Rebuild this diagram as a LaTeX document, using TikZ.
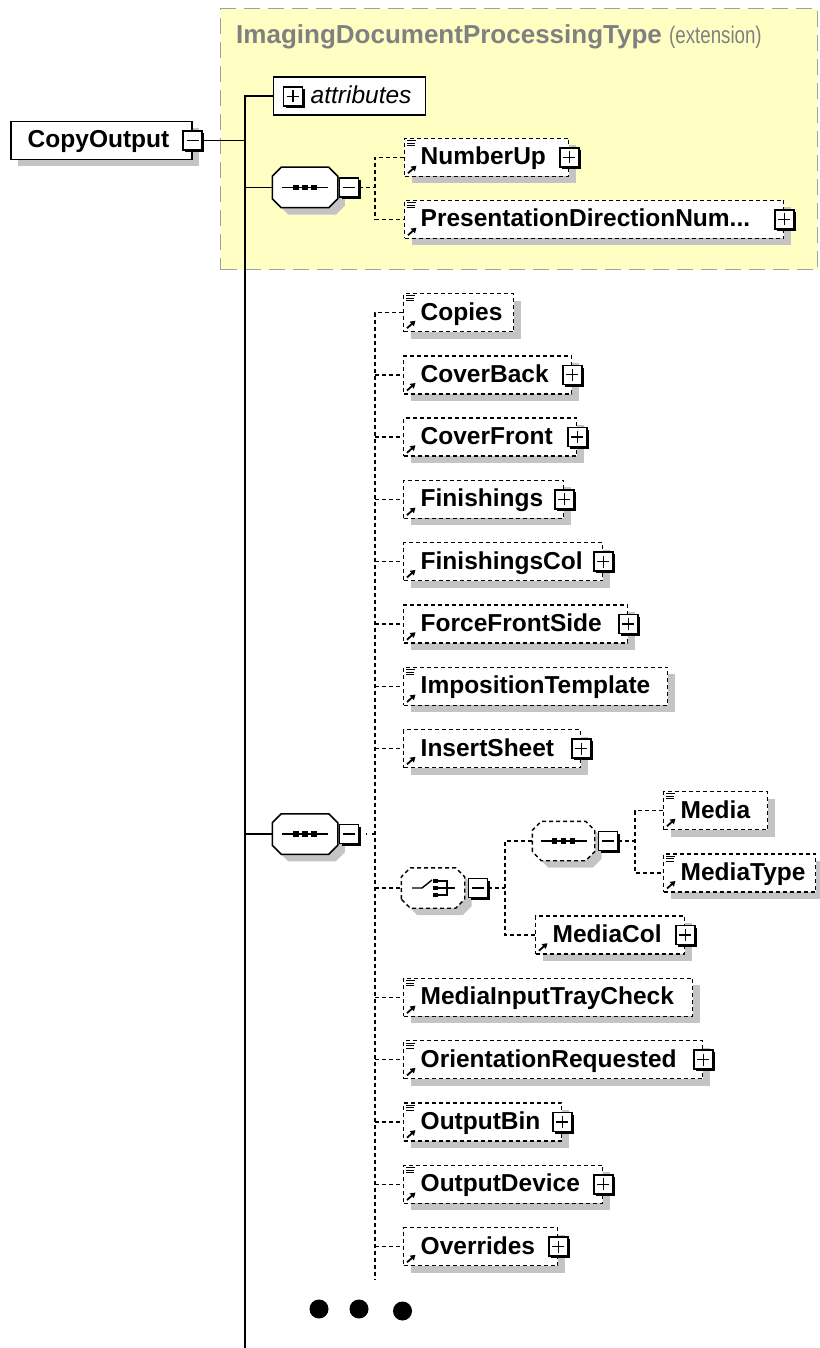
\documentclass[tikz,border=0pt]{standalone}
\usepackage{fontspec}
\usepackage{graphicx}
\setmainfont{Liberation Sans}
\usetikzlibrary{shadows,calc,arrows.meta}
\definecolor{shadowgray}{HTML}{C4C4C4}
\definecolor{extfill}{HTML}{FFFFC4}
\definecolor{extborder}{HTML}{A0A0A0}
\definecolor{titlegray}{HTML}{808080}
\newcommand{\elfont}{\fontsize{24.5}{28}\selectfont\bfseries}

% box with cut corners, used for compositor symbols
\makeatletter
\newdimen\cutL \newdimen\cutR \newdimen\cutT \newdimen\cutB
\pgfdeclareshape{cutcorners}{
  \inheritsavedanchors[from=rectangle]
  \inheritanchorborder[from=rectangle]
  \inheritanchor[from=rectangle]{center}
  \inheritanchor[from=rectangle]{north}
  \inheritanchor[from=rectangle]{south}
  \inheritanchor[from=rectangle]{east}
  \inheritanchor[from=rectangle]{west}
  \inheritanchor[from=rectangle]{north east}
  \inheritanchor[from=rectangle]{north west}
  \inheritanchor[from=rectangle]{south east}
  \inheritanchor[from=rectangle]{south west}
  \inheritanchor[from=rectangle]{mid}
  \inheritanchor[from=rectangle]{base}
  \backgroundpath{
    \southwest \global\cutL=\pgf@x \global\cutB=\pgf@y
    \northeast \global\cutR=\pgf@x \global\cutT=\pgf@y
    \pgfpathmoveto{\pgfqpoint{\cutL}{\dimexpr\cutB+9pt\relax}}
    \pgfpathlineto{\pgfqpoint{\cutL}{\dimexpr\cutT-9pt\relax}}
    \pgfpathlineto{\pgfqpoint{\dimexpr\cutL+9pt\relax}{\cutT}}
    \pgfpathlineto{\pgfqpoint{\dimexpr\cutR-9pt\relax}{\cutT}}
    \pgfpathlineto{\pgfqpoint{\cutR}{\dimexpr\cutT-9pt\relax}}
    \pgfpathlineto{\pgfqpoint{\cutR}{\dimexpr\cutB+9pt\relax}}
    \pgfpathlineto{\pgfqpoint{\dimexpr\cutR-9pt\relax}{\cutB}}
    \pgfpathlineto{\pgfqpoint{\dimexpr\cutL+9pt\relax}{\cutB}}
    \pgfpathclose
  }
}
\makeatother

\begin{document}
\begin{tikzpicture}[x=1pt,y=-1pt,
  shadowed/.style={drop shadow={shadow xshift=7pt,shadow yshift=-7pt,fill=shadowgray,opacity=1}},
  boxbase/.style={fill=white,anchor=west,inner sep=0pt,minimum height=38pt,
    text height=17pt,text depth=2pt,align=left,font=\elfont},
  elem/.style={boxbase,draw,line width=1.4pt,dash pattern=on 4pt off 3pt,shadowed},
  topel/.style={boxbase,draw,line width=1.5pt,shadowed},
  attrbox/.style={boxbase,draw,line width=1.4pt,font=\fontsize{24.5}{28}\selectfont\itshape},
  smallbox/.style={draw,line width=1.6pt,fill=white,minimum size=19pt,inner sep=0pt,
    drop shadow={shadow xshift=2.2pt,shadow yshift=-2.2pt,fill=black,opacity=1}},
  plusbox/.style={smallbox,path picture={
    \draw[solid,line width=1.3pt] ($(path picture bounding box.center)+(-6,0)$) -- +(12,0)
      ($(path picture bounding box.center)+(0,-6)$) -- +(0,12);}},
  minusbox/.style={smallbox,path picture={
    \draw[solid,line width=1.3pt] ($(path picture bounding box.center)+(-6,0)$) -- +(12,0);}},
  octbase/.style={cutcorners,fill=white,minimum width=64pt,minimum height=39pt,
    inner sep=0pt,shadowed},
  seqicon/.style={path picture={
    \draw[solid,line width=1.4pt] ($(path picture bounding box.center)+(-23,0)$) -- +(46,0);
    \foreach \dx in {-9,0,9}
      \fill[black] ($(path picture bounding box.center)+(\dx-2.8,-2.8)$) rectangle +(5.6,5.6);}},
  seqbox/.style={octbase,draw,line width=1.5pt,seqicon},
  optseqbox/.style={octbase,draw,line width=1.4pt,dash pattern=on 4pt off 3pt,
    minimum width=61pt,minimum height=38pt,seqicon},
  choicebox/.style={octbase,draw,line width=1.4pt,dash pattern=on 4pt off 3pt,
    minimum width=62pt,path picture={
    \coordinate (cc) at (path picture bounding box.center);
    \draw[solid,line width=1.4pt] ($(cc)+(-21,0)$) -- +(10,0) -- +(20,-8);
    \foreach \dy in {-7,0,7}
      \fill[black] ($(cc)+(0,\dy-2.4)$) rectangle +(4.8,4.8);
    \draw[solid,line width=1.4pt] ($(cc)+(4,-7)$) -- +(10,0) -- +(10,14) -- +(0,14)
      ($(cc)+(4,0)$) -- +(18,0);}},
  solidline/.style={line width=1.7pt},
  dashline/.style={line width=1.4pt,dash pattern=on 4pt off 3pt},
  dotline/.style={line width=1.4pt,dash pattern=on 1.5pt off 5pt},
  dot/.style={circle,fill=black,minimum size=19pt,inner sep=0pt}
]
\fill[white] (0,0) rectangle (819,1348);
\useasboundingbox (0,0) rectangle (819,1348);

% extension frame of the base type
\node[draw=extborder,fill=extfill,line width=1.4pt,dash pattern=on 16pt off 8pt,
  anchor=north west,minimum width=597pt,minimum height=261pt,inner sep=0pt]
  (ext) at (220,8) {};
\node[anchor=base west,inner sep=0pt,text=titlegray] (exttitle) at (236,43.5)
  {\fontsize{26}{30}\selectfont\bfseries ImagingDocumentProcessingType\mdseries\
   \fontsize{24}{28}\selectfont\scalebox{0.78}[1]{(extension)}};

% root element
\node[topel,text width=181pt] (copyoutput) at (10,140.5) {\hspace*{17pt}CopyOutput};
\node[minusbox] (copyoutputM) at (copyoutput.east) {};

% attributes
\node[attrbox,text width=152pt] (attributes) at (273,96) {\hspace*{37pt}attributes};
\node[plusbox] (attributesP) at (293,96.5) {};

% inherited sequence
\node[seqbox] (seqA) at (305,187.5) {};
\node[minusbox,anchor=west] (seqAM) at ($(seqA.east)+(1,0)$) {};
\node[elem,text width=164pt] (numberup) at (404,157.5) {\hspace*{16pt}NumberUp};
\node[elem,text width=379pt] (presdir) at (404,219.5) {\hspace*{16pt}PresentationDirectionNum...};

% own sequence
\node[seqbox] (seqB) at (305,834) {};
\node[minusbox,anchor=west] (seqBM) at ($(seqB.east)+(1,0)$) {};
\node[elem,text width=110pt] (copies) at (403,312.5) {\hspace*{17pt}Copies};
\node[elem,text width=168pt] (coverback) at (403,374.8) {\hspace*{17pt}CoverBack};
\node[elem,text width=173pt] (coverfront) at (403,437.1) {\hspace*{17pt}CoverFront};
\node[elem,text width=160pt] (finishings) at (403,499.4) {\hspace*{17pt}Finishings};
\node[elem,text width=199pt] (finishingscol) at (403,561.7) {\hspace*{17pt}FinishingsCol};
\node[elem,text width=224pt] (forcefrontside) at (403,624) {\hspace*{17pt}ForceFrontSide};
\node[elem,text width=264pt] (impositiontemplate) at (403,686.3) {\hspace*{17pt}ImpositionTemplate};
\node[elem,text width=177pt] (insertsheet) at (403,748.6) {\hspace*{17pt}InsertSheet};

% media choice
\node[choicebox] (choice) at (433,888) {};
\node[minusbox,anchor=west] (choiceM) at ($(choice.east)+(3,0)$) {};
\node[optseqbox] (seqC) at (563.5,841) {};
\node[minusbox,anchor=west] (seqCM) at ($(seqC.east)+(3,0)$) {};
\node[elem,text width=104pt] (media) at (663,810.5) {\hspace*{17pt}Media};
\node[elem,text width=152pt] (mediatype) at (663,872.8) {\hspace*{17pt}MediaType};
\node[elem,text width=149pt] (mediacol) at (535,935) {\hspace*{17pt}MediaCol};

\node[elem,text width=289pt] (mediainputtraycheck) at (403,997.4) {\hspace*{17pt}MediaInputTrayCheck};
\node[elem,text width=299pt] (orientationrequested) at (403,1059.7) {\hspace*{17pt}OrientationRequested};
\node[elem,text width=158pt] (outputbin) at (403,1122) {\hspace*{17pt}OutputBin};
\node[elem,text width=199pt] (outputdevice) at (403,1184.3) {\hspace*{17pt}OutputDevice};
\node[elem,text width=154pt] (overrides) at (403,1246.6) {\hspace*{17pt}Overrides};

% continuation marks
\node[dot] (more1) at (319,1309) {};
\node[dot] (more2) at (359,1309) {};
\node[dot] (more3) at (402.5,1311) {};

% expand buttons on the right border of collapsed elements
\foreach \n in {numberup,presdir,coverback,coverfront,finishings,finishingscol,
  forcefrontside,insertsheet,mediacol,orientationrequested,outputbin,outputdevice,overrides}
  \node[plusbox] (\n-plus) at (\n.east) {};

% simple-content marks
\foreach \n in {numberup,presdir,copies,impositiontemplate,media,mediatype,
  mediainputtraycheck,orientationrequested,outputbin,outputdevice}
  \draw[line width=0.9pt] ($(\n.north west)+(3,3)$) -- +(9,0)
    ($(\n.north west)+(3,5.5)$) -- +(8,0) ($(\n.north west)+(3,8)$) -- +(8,0);

% reference arrows
\foreach \n in {numberup,presdir,copies,coverback,coverfront,finishings,finishingscol,
  forcefrontside,impositiontemplate,insertsheet,media,mediatype,mediacol,
  mediainputtraycheck,orientationrequested,outputbin,outputdevice,overrides}
  \draw[line width=1.8pt,-{Triangle[length=5pt,width=6pt]}]
    ($(\n.south west)+(4,-4)$) -- ($(\n.south west)+(12.5,-11.5)$);

% connector rails
\coordinate (spine) at (245,1348);
\coordinate (railA) at (375,0);
\coordinate (railB) at (375,1280);
\coordinate (railC) at (505,0);
\coordinate (railD) at (635,0);

% solid content model of the root
\draw[solidline] (copyoutputM.east) -- (copyoutputM.east -| spine);
\draw[solidline] (attributes.west) -| (spine);
\draw[solidline] (seqA.west) -- (seqA.west -| spine);
\draw[solidline] (seqB.west) -- (seqB.west -| spine);

% inherited sequence children
\draw[dashline] (seqAM.east) -- (seqAM.east -| railA);
\draw[dashline] (numberup.west) -| (seqAM.east -| railA) |- (presdir.west);

% own sequence children
\draw[dotline] (seqBM.east) -- (seqBM.east -| railB);
\draw[dashline] (copies.west) -| (railB);
\foreach \n in {coverback,coverfront,finishings,finishingscol,forcefrontside,
  impositiontemplate,insertsheet,choice,mediainputtraycheck,orientationrequested,
  outputbin,outputdevice,overrides}
  \draw[dashline] (\n.west -| railB) -- (\n.west);

% choice branches
\draw[dashline] (choiceM.east) -- (choiceM.east -| railC);
\draw[dashline] (seqC.west) -| (mediacol.west -| railC) -- (mediacol.west);
\draw[dashline] (seqCM.east) -- (seqCM.east -| railD);
\draw[dashline] (media.west) -| (mediatype.west -| railD) -- (mediatype.west);
\end{tikzpicture}
\end{document}
